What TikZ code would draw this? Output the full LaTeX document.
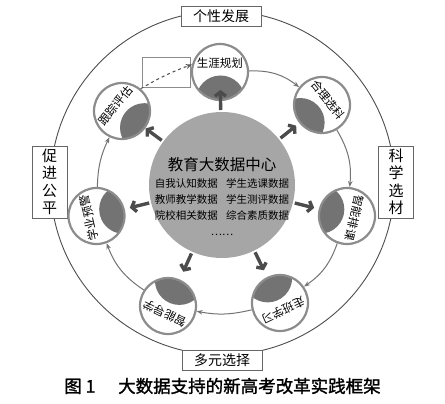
\documentclass[tikz,border=0pt]{standalone}
\usepackage{fontspec}
\newfontfamily\cjk{Noto Sans CJK SC}
\newfontfamily\cjkb[FakeBold=1.5]{Noto Sans CJK SC}
\usetikzlibrary{arrows.meta,positioning,calc}

\begin{document}
\begin{tikzpicture}[
  x=1pt, y=1pt,
  font=\cjk,
  hub/.style={circle, fill=black!35, minimum size=146pt, inner sep=0pt},
  stage/.style={circle, draw=black!45, line width=2.2pt, fill=white, minimum size=56pt, inner sep=0pt,
                path picture={\fill[black!55] ($(path picture bounding box.center)!28pt!(c.center)$) circle (24.5pt);}},
  lbl/.style={inner sep=0pt, font=\cjk\fontsize{11.5}{12}\selectfont},
  tag/.style={draw=black!60, fill=white, line width=0.9pt, inner sep=0pt, font=\cjk\fontsize{14}{16}\selectfont},
  vtag/.style={tag, text width=15pt, align=center, minimum width=35pt, minimum height=72pt,
               font=\cjk\fontsize{15}{17.5}\selectfont},
  flow/.style={draw=black!55, line width=1pt, -{Stealth[length=6pt,width=4.5pt]}},
  push/.style={draw=black!70, line width=3.4pt, -{Straight Barb[length=4pt,width=11pt]}},
  dsh/.style={draw=black!65, line width=1.1pt, dashed, -{Stealth[length=6pt,width=5pt]}}
]
\useasboundingbox (0,0) rectangle (445,-404);

% outer ring
\coordinate (o) at (222.5,-183);
\draw[black!70, line width=0.9pt] (o) circle (172pt);
\node[tag, minimum width=80pt, minimum height=20pt] (b1) at (221,-16.5) {个性发展};
\node[vtag] (b2) at (396,-182) {科\\学\\选\\材};
\node[tag, minimum width=80pt, minimum height=20pt] (b3) at (222,-360) {多元选择};
\node[vtag] (b4) at (49.5,-182) {促\\进\\公\\平};

% data centre
\node[hub] (c) at (222,-185) {};
\node[align=center, inner sep=0pt, font=\cjk\fontsize{10.5}{16}\selectfont] (ct) at (222,-197)
  {{\fontsize{15.5}{18}\selectfont 教育大数据中心}\\[1pt]
   自我认知数据\hspace{0.8em}学生选课数据\\
   教师教学数据\hspace{0.8em}学生测评数据\\
   院校相关数据\hspace{0.8em}综合素质数据\\
   ……};

% stages
\node[stage] (s1) at (220,-72)  {};
\node[stage] (s2) at (322,-105) {};
\node[stage] (s3) at (347,-216) {};
\node[stage] (s4) at (280,-303) {};
\node[stage] (s5) at (168,-306) {};
\node[stage] (s6) at (96.5,-216) {};
\node[stage] (s7) at (122,-111) {};

\node[lbl] (t1) at ($(s1)!-9pt!(c)$) {生涯规划};
\node[lbl, rotate=-51.4] (t2) at ($(s2)!-8pt!(c)$) {合理选科};
\node[lbl, rotate=-102.9] (t3) at ($(s3)!-8pt!(c)$) {智能排课};
\node[lbl, rotate=-154.3] (t4) at ($(s4)!-8pt!(c)$) {走班学习};
\node[lbl, rotate=154.3] (t5) at ($(s5)!-8pt!(c)$) {智能导学};
\node[lbl, rotate=102.9] (t6) at ($(s6)!-8pt!(c)$) {学业预警};
\node[lbl, rotate=51.4] (t7) at ($(s7)!-8pt!(c)$) {跟踪评估};

\draw[flow] (s1) to[bend left=20] (s2);
\draw[flow] (s2) to[bend left=18] (s3);
\draw[flow] (s3) to[bend left=18] (s4);
\draw[flow] (s4) to[bend left=12] (s5);
\draw[flow] (s5) to[bend left=18] (s6);
\draw[flow] (s6) to[bend left=12] (s7);

% feedback
\draw[black!45, line width=0.8pt] (142,-57) rectangle (190,-87);
\draw[dsh] (s7.50) to[bend left=5] (s1.165);

\foreach \s in {s1,s2,s3,s4,s5,s6,s7}
  \draw[push] ($(c)!75pt!(\s)$) -- ($(c)!95pt!(\s)$);

\node[font=\cjkb\fontsize{17.5}{19}\selectfont, inner sep=0pt] (cap) at (222.5,-386)
  {图 1\hspace{1.3em}大数据支持的新高考改革实践框架};
\end{tikzpicture}
\end{document}
